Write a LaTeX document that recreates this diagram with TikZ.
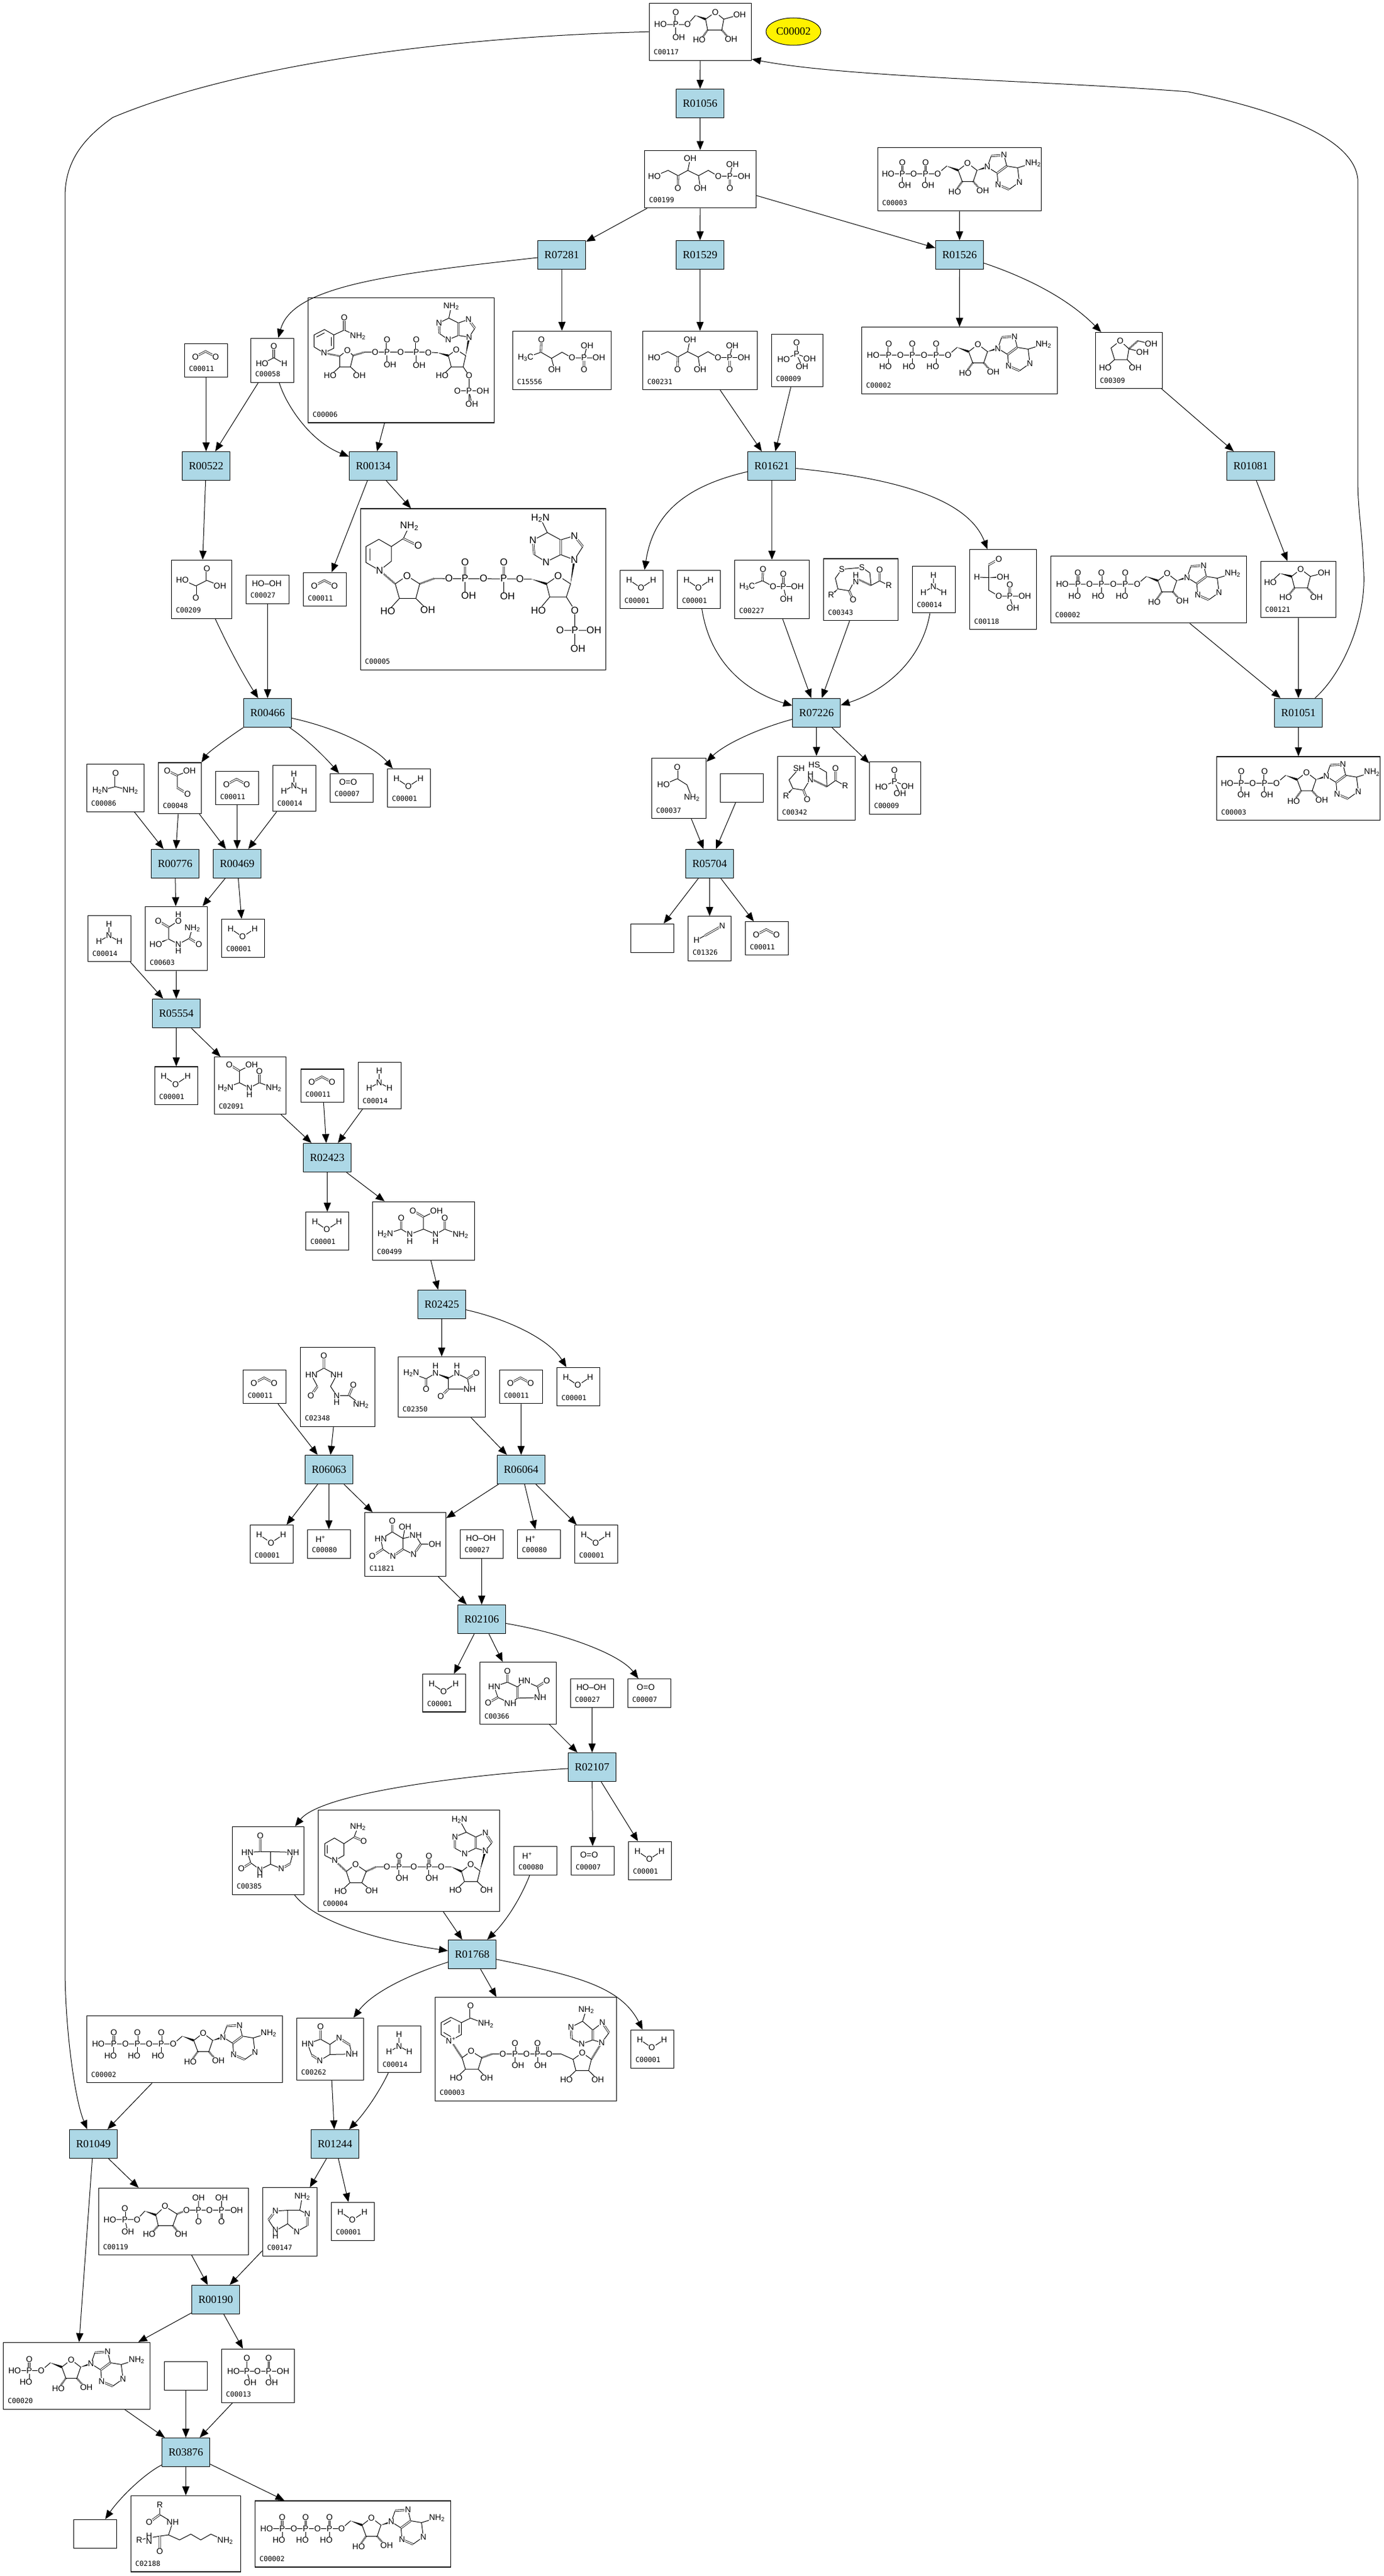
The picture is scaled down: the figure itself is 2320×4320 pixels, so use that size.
\documentclass[tikz,border=0pt]{standalone}
\usepackage{fontspec}
\setmainfont{Liberation Serif}
\setsansfont{Liberation Sans}
\setmonofont{DejaVu Sans Mono}
\usetikzlibrary{arrows.meta,calc,shapes.geometric}
\definecolor{rxnblue}{HTML}{ADD8E6}
\newcounter{atomno}
\newcommand{\NHH}{NH\textsubscript{2}}
\newcommand{\HHN}{H\textsubscript{2}N}
\newcommand{\atoms}[1]{\foreach \ax/\ay/\atxt in {#1}{\stepcounter{atomno}\node[atom] (atom\theatomno) at (\ax,\ay) {\atxt};}}
\newcommand{\wdg}[2]{\fill (#1) -- ($(#2)!1.9pt!90:(#1)$) -- ($(#2)!1.9pt!-90:(#1)$) -- cycle;}
\newcommand{\cpd}[6]{%
    \node[cpdbox, minimum width=(#3-#2)*1pt, minimum height=(#5-#4)*1pt] (#1) at ({(#2+#3)/2},{(#4+#5)/2}) {};
    \node[cpdid] (#1id) at ([shift={(8,-14.3)}]#1.south west) {#6};}
\newcommand{\Pgrp}[3]{%
    \draw[dbl] (#1,-8.8)--(#1,-28.2);
    \draw[bond] (#1,-8.8)--(#1,8);
    \atoms{#1/-8.8/P, #1/-28.2/O, #1+#2/10.6/#3}}
\newcommand{\Pnad}[2]{%
    \draw[dbl] (#1,#2)--(#1,#2-18.3);
    \draw[bond] (#1,#2)--(#1,#2+17);
    \atoms{#1/#2/P, #1/#2-18.3/O, #1+5/#2+19.2/OH}}
\newcommand{\adenosine}{%
    \draw[bond] (15.3,-14.8)--(31,-27)--(47,-14.8)--(40.6,4)--(22.2,4)--cycle;
    \wdg{-3.8,-22}{15.3,-14.8}
    \wdg{47,-14.8}{64.3,-20.3}
    \draw[hashbond] (22.2,4)--(12,18) (40.6,4)--(52,17);
    \draw[bond] (64.3,-20.3)--(70.8,-39) (92.2,-40.3)--(96.8,-22)--(115,-19)--(118,5) (100.7,17.3)--(118,5) (82.3,9.4)--(80.7,-10)--(64.3,-20.3) (115,-19)--(140.8,-27);
    \draw[dbl] (70.8,-39)--(92.2,-40.3) (96.8,-22)--(80.7,-10) (82.3,9.4)--(100.7,17.3);
    \atoms{31/-27/O, 9.6/21/HO, 56.6/19/OH, 64.3/-20.3/N, 92.2/-40.3/N, 82.3/9.4/N, 118/5/N, 140.8/-27/\NHH}}
\tikzset{
    bond/.style={line width=1pt},
    dbl/.style={line width=.8pt, double=white, double distance=1.7pt},
    hashbond/.style={line width=3pt, dash pattern=on .8pt off 1.1pt},
    atom/.style={font=\sffamily\fontsize{14}{15}\selectfont, fill=white, inner sep=.5pt},
    cpdbox/.style={draw, fill=white, line width=1.3pt, inner sep=0pt},
    cpdid/.style={anchor=west, inner sep=0pt, font=\ttfamily\fontsize{11.6}{12}\selectfont},
    rxn/.style={draw, fill=rxnblue, line width=1.3pt, minimum width=80pt, minimum height=48pt, inner sep=0pt, font=\fontsize{18.3}{20}\selectfont},
    goal/.style={draw, ellipse, fill=yellow, line width=1pt, minimum width=92pt, minimum height=46pt, inner sep=0pt, font=\fontsize{18.3}{20}\selectfont},
    rel/.style={-{Triangle[length=15pt,width=12pt]}, line width=1pt},
    molwater/.pic={\draw[bond] (-20.9,-15.8)--(-1,-2.4)--(19.4,-15.8); \atoms{-20.9/-15.8/H, -1/-2.4/O, 19.4/-15.8/H}},
    molco/.pic={\draw[dbl] (-18,-6)--(-1,-15)--(16,-6); \atoms{-18/-6/O, 16/-6/O}},
    molam/.pic={\draw[bond] (-.8,-24.5)--(-.8,-5)--(-17.6,4.5) (-.8,-5)--(16.6,4.5); \atoms{-.8/-24.5/H, -.8/-5/N, -17.6/4.5/H, 16.6/4.5/H}},
    moloxy/.pic={\atoms{-6/-9.6/O=O}},
    molperox/.pic={\atoms{-1.3/-9.6/HO--OH}},
    molproton/.pic={\atoms{-14/-8.5/H\textsuperscript{+}}},
    molpi/.pic={\draw[dbl] (-1.3,-29.5)--(-1.3,-10.7); \draw[bond] (-23,-1.8)--(-1.3,-10.7)--(20.7,-3) (-1.3,-10.7)--(8,9.8); \atoms{-1.3/-29.5/O, -1.3/-10.7/P, -23/-1.8/HO, 20.7/-3/OH, 8/9.8/OH}},
    molatp/.pic={\draw[bond] (-144,-8.8)--(-19.1,-8.8)--(-3.8,-22);
        \foreach \px in {-118.6,-79.2,-39.2}{\Pgrp{\px}{-5.5}{HO}}
        \adenosine
        \atoms{-144.7/-8.8/HO, -99.1/-8.8/O, -59.3/-8.8/O, -19.1/-8.8/O}},
    moladp/.pic={\begin{scope}[shift={(-17.6,0)}]
        \draw[bond] (-102,-8.8)--(-19.1,-8.8)--(-3.8,-22);
        \foreach \px in {-78.2,-39.2}{\Pgrp{\px}{4}{OH}}
        \adenosine
        \atoms{-102/-8.8/HO, -59.3/-8.8/O, -19.1/-8.8/O}
        \end{scope}},
    molamp/.pic={\begin{scope}[shift={(-40.3,0)}]
        \draw[bond] (-63.7,-8.8)--(-19.1,-8.8)--(-3.8,-22);
        \Pgrp{-39.2}{-5.5}{HO}
        \adenosine
        \atoms{-63.7/-8.8/HO, -19.1/-8.8/O}
        \end{scope}},
    molrfive/.pic={\draw[bond] (-66.8,-12.3)--(-21.4,-12.3)--(-8.2,-27.5) (-41.3,-12.3)--(-41.3,6) (8.7,-21.2)--(25,-32.8)--(39.3,-21.2)--(36,-3)--(12.2,-3)--cycle (39.3,-21.2)--(60,-27);
        \draw[dbl] (-41.3,-12.3)--(-41.3,-32.8);
        \wdg{-8.2,-27.5}{8.7,-21.2}
        \draw[hashbond] (12.2,-3)--(3,10) (36,-3)--(47,10);
        \atoms{-41.3/-32.8/O, -41.3/-12.3/P, -66.8/-12.3/HO, -21.4/-12.3/O, -36.2/9.2/OH, 25/-32.8/O, 65.8/-28.3/OH, -2/13.7/HO, 51.5/12.8/OH}},
    molketo/.pic={\draw[bond] (-77,-5)--(-54,-14.7)--(-37.2,-5.8)--(-20.9,-14.7)--(-3,-5.8)--(13.3,-14.7)--(30,-5)--(73.5,-5) (-20.9,-14.7)--(-17,-34.4) (-3,-5.8)--(0,15.2) (49.5,-5)--(54,-24.6);
        \draw[dbl] (-37.2,-5.8)--(-37.7,15.2) (49.5,-5)--(49.5,15.2);
        \atoms{-77/-5/HO, -37.7/15.2/O, -17/-34.4/OH, 0/15.2/OH, 30/-5/O, 49.5/-5/P, 54/-24.6/OH, 73.5/-5/OH, 49.5/15.2/O}},
    molmeth/.pic={\draw[bond] (-61,-4.5)--(-35.4,-13.8)--(-17.6,-3.6)--(0,-13.8)--(16.6,-4.5)--(61.8,-4.5) (-17.6,-3.6)--(-12.6,15.2) (36.9,-4.5)--(42,-25);
        \draw[dbl] (-35.4,-13.8)--(-34.6,-34.8) (36.9,-4.5)--(36.9,15.2);
        \atoms{-61/-4.5/H\textsubscript{3}C, -34.6/-34.8/O, -12.6/15.2/OH, 16.6/-4.5/O, 36.9/-4.5/P, 42/-25/OH, 61.8/-4.5/OH, 36.9/15.2/O}},
    molformate/.pic={\draw[dbl] (2.7,-23.7)--(2.7,-4.3); \draw[bond] (-17,5.7)--(2.7,-4.3)--(20.3,5.7); \atoms{2.7/-23.7/O, -17/5.7/HO, 20.3/5.7/H}},
    moloxal/.pic={\draw[bond] (-32.3,-16)--(-9.7,-5.7)--(8.7,-15)--(30.7,-6); \draw[dbl] (-9.7,-5.7)--(-9.7,14.3) (8.7,-15)--(8.7,-34.3); \atoms{-32.3/-16/HO, -9.7/14.3/O, 8.7/-34.3/O, 30.7/-6/OH}},
    molrulose/.pic={\draw[bond] (-14.7,-33)--(-30,-21)--(-24,-1.5)--(-2.9,-1.5)--(0,-19.7)--cycle (0,-19.7)--(22.8,-13.6) (-24,-1.5)--(-39.6,12.4) (-2.9,-1.5)--(10.5,12.4) (15.1,-33)--(37.3,-27.6); \draw[hashbond] (0,-19.7)--(15.1,-33); \atoms{-14.7/-33/O, 37.3/-27.6/OH, 22.8/-13.6/OH, -39.6/12.4/HO, 10.5/12.4/OH}},
    molribose/.pic={\draw[bond] (-47,-11.8)--(-31,-27) (-11.5,-22)--(3.8,-34)--(20,-22)--(15,-2.7)--(-6.5,-2.7)--cycle (20,-22)--(43,-28); \wdg{-31,-27}{-11.5,-22} \draw[hashbond] (-6.5,-2.7)--(-16,9) (15,-2.7)--(26,9); \atoms{-47/-11.8/HO, 3.8/-34/O, 43/-28/OH, -21.4/13/HO, 30.2/13/OH}},
    molacetylp/.pic={\draw[bond] (-41.6,-4.8)--(-16,-14.5)--(1.8,-4.8)--(42.6,-4.8) (19,-4.8)--(24,15.8); \draw[dbl] (-16,-14.5)--(-15,-34) (19,-4.8)--(19,-25.5); \atoms{-41.6/-4.8/H\textsubscript{3}C, -15/-34/O, 1.8/-4.8/O, 19/-4.8/P, 19/-25.5/O, 42.6/-4.8/OH, 24/15.8/OH}},
    moldisulf/.pic={\draw[bond] (-32,-34)--(1.8,-37)--(15,-28)--(17,-7)--(31.4,-14.5)--(46.7,-7) (-32,-34)--(-42.8,-19)--(-38.5,-1)--(-19.6,2)--(-8.4,-19) ; \wdg{-38.5,-1}{-50,9.4} \draw[hashbond] (-8.4,-19)--(17,-7); \draw[dbl] (-19.6,2)--(-13,17.3) (31.4,-14.5)--(31.4,-33); \atoms{-32/-34/S, 1.8/-37/S, -50/9.4/R, -13/17.3/O, -8.4/-24/H, -8.4/-13/N, 31.4/-33/O, 46.7/-7/R}},
    moldithiol/.pic={\draw[bond] (-29.3,-33)--(-46,-14)--(-39.5,.3)--(-21.7,3.3)--(-10,-16) (-3.8,-39)--(16.6,-27)--(17.6,-2.7)--(32,-13)--(48,-4); \wdg{-39.5,.3}{-51,12.4} \draw[hashbond] (-10,-16)--(17.6,-2.7); \draw[dbl] (-21.7,3.3)--(-15.6,19) (32,-13)--(32,-33); \atoms{-29.3/-33/SH, -51/12.4/R, -15.6/19/O, -10/-23/H, -10/-14/N, -3.8/-39/HS, 32/-33/O, 48/-4/R}},
    molgap/.pic={\draw[bond] (-24,-41.5)--(-24,1)--(-7,11)--(36.4,11) (11.4,11)--(16.5,30.6) (-43.6,-21)--(-24,-20); \draw[dbl] (-24,-41.5)--(-7,-51) (11.4,11)--(11.4,-8); \wdg{-24,-20}{0,-21} \atoms{-7/-51/O, -43.6/-21/H, 0/-21/OH, -7/11/O, 11.4/11/P, 11.4/-8/O, 36.4/11/OH, 16.5/30.6/OH}},
    molglycine/.pic={\draw[bond] (-25.8,-5.8)--(-2.8,-16)--(13.5,-5.8)--(21.7,15.5); \draw[dbl] (-2.8,-16)--(-2.8,-35.4); \atoms{-25.8/-5.8/HO, -2.8/-35.4/O, 21.7/15.5/\NHH}},
    molhcn/.pic={\draw[bond] (-22,2.7)--(-8,-5); \draw[dbl] (-8,-5)--(21.2,-21.5); \atoms{-22/2.7/H, 21.2/-21.5/N}},
    molurea/.pic={\draw[bond] (-25.6,4.3)--(.2,-2)--(25,4.3); \draw[dbl] (.2,-2)--(.2,-25); \atoms{.2/-25/O, -25.6/4.3/\HHN, 25/4.3/\NHH}},
    molglyox/.pic={\draw[bond] (16.3,-29.6)--(-4.3,-21.5)--(-4.3,-1); \draw[dbl] (-21,-29.6)--(-4.3,-21.5) (-4.3,-1)--(12.9,9.5); \atoms{-21/-29.6/O, 16.3/-29.6/OH, 12.9/9.5/O}},
    molureidoa/.pic={\draw[bond] (3.6,-29.6)--(-12.6,-19)--(-12.6,1)--(3.6,9.5)--(22,-.3)--(27,-17.5); \wdg{-12.6,1}{-34.2,9.5} \draw[dbl] (-30.2,-29.6)--(-12.6,-19) (22,-.3)--(37.8,9.5); \atoms{-30.2/-29.6/O, 3.6/-40.5/H, 3.6/-29.6/O, 27/-17.5/\NHH, -34.2/9.5/HO, 3.6/9.5/N, 3.6/21/H, 37.8/9.5/O}},
    molureidob/.pic={\draw[bond] (2.6,-35.3)--(-18,-25)--(-18,-5)--(-41,3.7) (-18,-5)--(-1.2,3.7)--(15.6,-5)--(39.5,3.7); \draw[dbl] (-35,-35.3)--(-18,-25) (15.6,-5)--(15.6,-24); \atoms{-35/-35.3/O, 2.6/-35.3/OH, -41/3.7/\HHN, -1.2/3.7/N, -1.2/15.2/H, 15.6/-24/O, 39.5/3.7/\NHH}},
    molallant/.pic={\draw[bond] (21.7,-34)--(0,-23.5)--(0,-3)--(-23,5.6)--(-37.5,-3)--(-64,5.6) (0,-3)--(20.2,5.6)--(35.5,-3)--(62,6.6); \draw[dbl] (-18,-34)--(0,-23.5) (-37.5,-3)--(-37.5,-21.4) (35.5,-3)--(35.5,-21.4); \atoms{-18/-34/O, 21.7/-34/OH, -23/5.6/N, -23/17.3/H, -37.5/-21.4/O, -64/5.6/\HHN, 20.2/5.6/N, 20.2/17.3/H, 35.5/-21.4/O, 62/6.6/\NHH}},
    molohcu/.pic={\draw[bond] (-44,-20)--(-23.2,-31.6)--(-1.8,-20)--(-12,-1)--(-1.8,14.3)--(18.6,14.3)--(39,29.6) (-44,-20)--(-34,-1); \draw[dbl] (-23.2,-31.6)--(-23.2,-52) (-34,-1)--(-45,14.3) (18.6,14.3)--(26.3,-3.6); \atoms{-23.2/-52/O, -44/-20/HN, -1.8/-20/NH, -45/14.3/O, -1.8/14.3/N, -1.8/26/H, 26.3/-3.6/O, 39/29.6/\NHH}},
    molallantoin/.pic={\draw[bond] (-51,-23)--(-26,-13.8)--(-10.2,-23) (25.5,-23)--(43.4,-13.8)--(47,3.6)--(11.2,3.6)--(11.2,-14.8)--cycle; \wdg{-10.2,-23}{11.2,-14.8} \draw[dbl] (-26,-13.8)--(-26,4) (43.4,-13.8)--(58.2,-23) (11.2,3.6)--(-1.5,15.8); \atoms{-51/-23/\HHN, -26/4/O, -10.2/-23/N, -10.2/-35.7/H, 25.5/-23/N, 25.5/-35.7/H, 58.2/-23/O, 47/3.6/NH, -1.5/15.8/O}},
    molhiu/.pic={\draw[bond] (-22,-21)--(-41.3,-9)--(-37.8,8)--(-21,19.6) (-22,-21)--(-4,-10)--(-4,8) (-4,-10)--(-.5,-29.3) (-4,-10)--(17.3,-15)--(26,-.8)--(49.5,-.3) (13.8,16.8)--(-4,8); \draw[dbl] (-22,-21)--(-22,-39) (-37.8,8)--(-55.6,19.6) (-21,19.6)--(-4,8) (26,-.8)--(13.8,16.8); \atoms{-22/-39/O, -41.3/-9/HN, -55.6/19.6/O, -21/19.6/N, -.5/-29.3/OH, 17.3/-15/NH, 49.5/-.3/OH, 13.8/16.8/N}},
    moluric/.pic={\draw[bond] (-18,-18.5)--(-40,-11)--(-34,7)--(-13,17.2)--(-1,8.3) (-18,-18.5)--(-1,-10.5)--(10.5,-20.8)--(32.4,-11)--(37,7.4)--(-1,8.3); \draw[dbl] (-18,-18.5)--(-18,-37.3) (-34,7)--(-50.2,16.3) (-1,-10.5)--(-1,8.3) (32.4,-11)--(48,-20.8); \atoms{-18/-37.3/O, -40/-11/HN, -50.2/16.3/O, -13/17.2/NH, 10.5/-20.8/HN, 48/-20.8/O, 37/7.4/NH}},
    molxanth/.pic={\draw[bond] (-13.3,-15)--(-34.7,-14)--(-29,3.8)--(-13.8,15)--(4,6)--(22,13.6) (-13.3,-15)--(4,-15)--(41.8,-14)--(37,5) (4,-15)--(4,6); \draw[dbl] (-13.3,-15)--(-13.3,-41.7) (-29,3.8)--(-45,13.6) (22,13.6)--(37,5); \atoms{-13.3/-41.7/O, -34.7/-14/HN, 41.8/-14/NH, -45/13.6/O, -13.8/15/N, -13.8/24.8/H, 22/13.6/N}},
    molhypox/.pic={\draw[bond] (-16.3,-16.7)--(-37.8,-9)--(-31,10) (-17.3,19)--(-.5,9)--(36.2,8.3)--(32.6,-7.3) (-16.3,-16.7)--(-.5,-7.8)--(14.8,-18.5) (-.5,-7.8)--(-.5,9); \draw[dbl] (-16.3,-16.7)--(-16.3,-37.3) (-31,10)--(-17.3,19) (14.8,-18.5)--(32.6,-7.3); \atoms{-16.3/-37.3/O, -37.8/-9/HN, -17.3/19/N, 14.8/-18.5/N, 36.2/8.3/NH}},
    moladenine/.pic={\draw[bond] (20.7,-42.3)--(16.6,-19.5)--(29.3,-13) (29.3,6.5)--(11.5,16.3)--(-3.8,3.3)--(-24.2,15)--(-36,-3.3) (16.6,-19.5)--(-3.8,-19.5)--(-24.2,-18.2) (-3.8,-19.5)--(-3.8,3.3); \draw[dbl] (29.3,-13)--(29.3,6.5) (-24.2,-18.2)--(-36,-3.3); \atoms{20.7/-42.3/\NHH, 29.3/-13/N, 11.5/16.3/N, -24.2/-18.2/N, -24.2/14/N, -24.2/24/H}},
    molprpp/.pic={\draw[bond] (-106.6,-3.3)--(-61,-3.3)--(-48,-17.5) (-81.6,-3.3)--(-76.5,17) (-29.6,-11)--(-14.3,-25.4)--(6,-12.5)--(-1,7)--(-25.5,7)--cycle (21.7,-19)--(106,-19) (42,-19)--(42,-40.3) (80.6,-19)--(80.6,-40.3);
        \draw[dbl] (-81.6,-3.3)--(-81.6,-22) (42,-19)--(42,.6) (80.6,-19)--(80.6,.6);
        \wdg{-48,-17.5}{-29.6,-11} \draw[hashbond] (6,-12.5)--(21.7,-19) (-25.5,7)--(-35,18) (-1,7)--(8,18);
        \atoms{-106.6/-3.3/HO, -81.6/-3.3/P, -81.6/-22/O, -76.5/17/OH, -61/-3.3/O, -14.3/-25.4/O, -40.8/21.5/HO, 12.8/21.5/OH, 21.7/-19/O, 42/-19/P, 42/-40.3/OH, 42/.6/O, 60.2/-19/O, 80.6/-19/P, 80.6/-40.3/OH, 80.6/.6/O, 106/-19/OH}},
    molppi/.pic={\draw[bond] (-41,-7.8)--(42,-7.8) (-18.6,-7.8)--(-18.6,-30) (-18.6,-7.8)--(-13,11.7) (18,-7.8)--(23,11.7); \draw[dbl] (18,-7.8)--(18,-30); \atoms{-41/-7.8/HO, -18.6/-7.8/P, -18.6/-30/O, -13/11.7/OH, -.8/-7.8/O, 18/-7.8/P, 18/-30/O, 42/-7.8/OH, 23/11.7/OH}},
    mollysine/.pic={\draw[bond] (-22,-19)--(-29,2)--(-43.6,4)--(-61.5,7) (-29,2)--(-10.5,10.4)--(8.4,.7)--(25,10.4)--(42,.7)--(66,11.7) (-43.6,-48)--(-43.6,-32)--(-22,-19) (-78,10.4)--(-61.5,7); \draw[dbl] (-43.6,-32)--(-61.5,-19) (-43.6,4)--(-43.6,30); \atoms{-43.6/-48/R, -61.5/-19/O, -22/-19/NH, -78/10.4/R, -61.5/4/H, -61.5/13/N, -43.6/30/O, 66/11.7/\NHH}},
    molnad/.pic={\draw[bond] (-142.3,-44.4)--(-126,-53.3)--(-108.2,-44.4)--(-108.2,-24.3)--(-126,-14.5)--(-142.3,-24.3)--cycle (-108.2,-44.4)--(-92.9,-52)--(-67.3,-42.2) (-138,-28)--(-126,-21) (-138,-41)--(-126,-48) (-112,-41)--(-112,-27);
        \draw[dbl] (-92.9,-52)--(-92.9,-72.5);
        \draw[hashbond] (-126,-14.5)--(-107.1,14.5) (-74,14.5)--(-57,8.3) (109.7,17.2)--(127,-11)  ;
        \draw[bond] (-107.1,14.5)--(-91.8,3.4)--(-74,14.5)--(-80,33.7)--(-101.5,33.7)--cycle (-101.5,33.7)--(-117,48.4) (-80,33.7)--(-65.8,48.4) (-57,8.3)--(59.2,8.3)--(79,17.2)--(94.4,6)--(109.7,17.2)--(105,36)--(83.7,36)--(79,17.2) (83.7,36)--(67.9,51) (105,36)--(120.4,51) (127,-11)--(139.3,-27.5) (128,-44.4)--(112,-32)--(94.9,-46.7)--(75.5,-36.8) (76.5,-17.6)--(93.4,-8.7)--(112,-15.4)--(127,-11) (94.9,-46.7)--(101,-65.8);
        \draw[dbl] (139.3,-27.5)--(128,-44.4) (112,-32)--(112,-15.4) (75.5,-36.8)--(76.5,-17.6);
        \Pnad{-18.4}{8.3} \Pnad{19.4}{8.3}
        \atoms{-92.9/-72.5/O, -67.3/-42.2/\NHH, -126/-14.5/N\textsuperscript{+}, -91.8/3.4/O, -117/48.4/HO, -65.8/48.4/OH, -38.8/8.3/O, 1/8.3/O, 38.8/8.3/O, 94.4/6/O, 67.9/51/HO, 120.4/51/OH, 127/-11/N, 128/-44.4/N, 93.4/-8.7/N, 75.5/-36.8/N, 101/-65.8/\NHH}},
    molnadh/.pic={\draw[bond] (-125,-38)--(-109,-28.6)--(-109,-9)--(-124.3,-.4)--(-141.3,-9)--(-141.3,-28.6)--cycle (-109,-28.6)--(-92,-39.7)--(-85.5,-56.7) (-137,-12)--(-137,-26);
        \draw[dbl] (-92,-39.7)--(-76,-33);
        \draw[hashbond] (-124.3,-.4)--(-105,18) (-71.7,18)--(-55,10.3);
        \wdg{71,10.3}{88,18} \wdg{119,17}{128,-16.5}
        \draw[bond] (-105,18)--(-89.5,6)--(-71.7,18)--(-79,37)--(-99,37)--cycle (-99,37)--(-114.5,51.3) (-79,37)--(-62.5,50.4) (-55,10.3)--(71,10.3) (88,18)--(103.4,6)--(119,17)--(114.5,35)--(93,35)--(88,18) (93,35)--(78,49.6) (114.5,35)--(130,49.6) (128,-16.5)--(139,-30) (128,-47)--(112,-39.7)--(96,-47.8)--(77,-40) (77,-21)--(93.4,-12)--(112,-21)--(128,-16.5) (96,-47.8)--(84.6,-68.8);
        \draw[dbl] (139,-30)--(128,-47) (112,-39.7)--(112,-21) (77,-40)--(77,-21);
        \Pnad{-16.6}{10.3} \Pnad{33.4}{10.3}
        \atoms{-85.5/-56.7/\NHH, -76/-33/O, -124.3/-.4/N, -89.5/6/O, -114.5/51.3/HO, -62.5/50.4/OH, -37/10.3/O, 8/10.3/O, 54/10.3/O, 103.4/6/O, 78/49.6/HO, 130/49.6/OH, 128/-16.5/N, 128/-47/N, 93.4/-12/N, 77/-40/N, 84.6/-68.8/\HHN}},
    molnadp/.pic={\draw[bond] (-146,-42.6)--(-128.5,-51.6)--(-112.7,-42.6)--(-112.7,-20.3)--(-129.3,-12.3)--(-146,-22.5)--cycle (-112.7,-42.6)--(-95.4,-50.7)--(-72.6,-40.4) (-142,-39)--(-128.5,-46) (-117,-39)--(-117,-24);
        \draw[dbl] (-95.4,-50.7)--(-95.4,-71.7);
        \draw[hashbond] (-129.3,-12.3)--(-103,-7) (-80.4,-8)--(-61.8,-13.6);
        \wdg{61.4,-12.7}{79.2,-7.8} \wdg{108.2,-7.8}{114,-39}
        \draw[bond] (-103,-7)--(-90,-17)--(-80.4,-8)--(-85,11)--(-103,11)--cycle (-103,11)--(-119,25.7) (-85,11)--(-70,25) (-61.8,-13.6)--(45.6,-13.6)--(61.4,-12.7) (79.2,-7.8)--(92.5,-18)--(108.2,-7.8)--(104,11)--(84,11)--(79.2,-7.8) (84,11)--(68.8,25.7) (104,11)--(114,25.7)--(114,73) (94.5,51)--(137,51) (114,51)--(118.5,73.4) (114,-39)--(123.7,-53.8) (113,-68.5)--(96,-62.7)--(80,-70.7)--(63.4,-62.7) (64.3,-44.9)--(79,-34.6)--(96,-41.7)--(114,-39) (80,-70.7)--(84,-90.4);
        \draw[dbl] (123.7,-53.8)--(113,-68.5) (96,-62.7)--(96,-41.7) (63.4,-62.7)--(64.3,-44.9);
        \draw[dbl] (-23.6,-13.6)--(-23.6,-34.6) (25.3,-13.6)--(25.3,-34.6);
        \draw[bond] (-23.6,-13.6)--(-23.6,5) (25.3,-13.6)--(25.3,5);
        \atoms{-95.4/-71.7/O, -72.6/-40.4/\NHH, -129.3/-12.3/N, -90/-17/O, -119/25.7/HO, -70/25/OH, -43.5/-13.6/O, -23.6/-13.6/P, -23.6/-34.6/O, -18.6/7.4/OH, -.8/-13.6/O, 25.3/-13.6/P, 25.3/-34.6/O, 30.3/8.3/OH, 45.6/-12.7/O, 92.5/-18/O, 68.8/25.7/HO, 114/25.7/O, 114/51/P, 94.5/51/O, 137/51/OH, 118.5/73.4/OH, 114/-39/N, 113/-68.5/N, 79/-34.6/N, 63.4/-62.7/N, 84/-90.4/\NHH}},
    molnadph/.pic={\begin{scope}[atom/.append style={font=\sffamily\fontsize{16.5}{17}\selectfont}]
        \draw[bond] (-175,-83.7)--(-154,-71.6)--(-154,-47)--(-173.7,-31.5)--(-196.5,-44.8)--(-196.5,-71.6)--cycle (-154,-71.6)--(-134,-85)--(-124,-106) (-190,-48)--(-190,-68);
        \draw[dbl] (-134,-85)--(-109,-73);
        \draw[hashbond] (-173.7,-31.5)--(-147.5,-9) (-106.5,-9)--(-82.5,-18);
        \wdg{81,-17}{106,-9} \wdg{146.4,-9}{152.7,-49.3}
        \draw[bond] (-147.5,-9)--(-127.7,-22.5)--(-106.5,-9)--(-113,15.4)--(-140.5,15.4)--cycle (-140.5,15.4)--(-160,36.8) (-113,15.4)--(-93,35) (-82.5,-18)--(81,-17) (106,-9)--(125.6,-22.5)--(146.4,-9)--(139.3,13)--(111.5,13)--(106,-9) (111.5,13)--(92.5,35.5) (139.3,13)--(153.6,35.5)--(153.6,99) (128.8,69)--(185.5,69) (152.7,-49.3)--(167,-71.6) (152.7,-89.5)--(129.9,-82.8)--(107.4,-95)--(83.3,-82) (85.4,-58)--(105.3,-45.8)--(129.9,-58)--(152.7,-49.3) (107.4,-95)--(95.8,-119.4) (-30.6,-18)--(-30.6,9) (34.4,-18)--(34.4,9);
        \draw[dbl] (167,-71.6)--(152.7,-89.5) (129.9,-82.8)--(129.9,-58) (83.3,-82)--(85.4,-58) (-30.6,-18)--(-30.6,-45) (34.4,-18)--(34.4,-45);
        \atoms{-124/-106/\NHH, -109/-73/O, -173.7/-31.5/N, -127.7/-22.5/O, -160/36.8/HO, -93/35/OH, -57.6/-18/O, -30.6/-18/P, -30.6/-45/O, -24.5/11/OH, .4/-18/O, 34.4/-18/P, 34.4/-45/O, 40.6/12/OH, 61.4/-17/O, 125.6/-22.5/O, 92.5/35.5/HO, 153.6/35.5/O, 153.6/69/P, 128.8/69/O, 185.5/69/OH, 158.8/99.3/OH, 152.7/-49.3/N, 152.7/-89.5/N, 105.3/-45.8/N, 83.3/-82/N, 95.8/-119.4/\HHN}
        \end{scope}},
}
\begin{document}
\begin{tikzpicture}[x=1pt,y=-1pt]
    \useasboundingbox (0,0) rectangle (2320,4320);
    % reactions
    \foreach \rname/\rx/\ry in {R01056/1173.5/173.5, R07281/941.7/427.5, R01529/1173.5/427.5, R01526/1608.5/427.5,
        R00522/345.5/781.5, R00134/625.5/781.5, R01621/1293.7/781.5, R01081/2096.5/781.5,
        R00466/448.5/1195.5, R07226/1368.7/1195.3, R01051/2176.5/1195.3, R00776/293.5/1448.5, R00469/397.5/1448.5, R05704/1189.5/1448.5,
        R05554/295.5/1699.5, R02423/548.5/1941.5, R02425/740.5/2187.5, R06063/551.5/2464.5, R06064/873.5/2464.5,
        R02106/807.5/2715.5, R02107/992.5/2963.5, R01768/791.5/3277.5, R01049/156.5/3595.5, R01244/561.5/3595.5,
        R00190/361.5/3856.5, R03876/311.5/4112.5}
        {\node[rxn] (\rname) at (\rx,\ry) {\rname};}
    \node[goal] (C00002top) at (1330,53) {C00002};
    % compounds
    \cpd{C00117}{1088.3}{1259.7}{5.4}{101.3}{C00117}
    \cpd{C00199}{1080.6}{1267.3}{252.2}{348.7}{C00199}
    \cpd{C00003a}{1471.4}{1745.4}{247.3}{353.6}{C00003}
    \cpd{C00058}{420.3}{492.3}{567.3}{641.3}{C00058}
    \cpd{C00011a}{309.3}{381.7}{576.3}{632.3}{C00011}
    \cpd{C00006}{516.5}{828.3}{499.6}{708.9}{C00006}
    \cpd{C15556}{859.4}{1024.8}{555.4}{653.6}{C15556}
    \cpd{C00231}{1077.6}{1269.4}{555.4}{653.6}{C00231}
    \cpd{C00009a}{1293.4}{1379.6}{560.3}{648.7}{C00009}
    \cpd{C00002a}{1444.4}{1772.4}{548.7}{660.3}{C00002}
    \cpd{C00309}{1836.3}{1948.5}{557.6}{651.5}{C00309}
    \cpd{C00209}{287.3}{388.7}{939.3}{1037.3}{C00209}
    \cpd{C00027a}{412.3}{484.7}{964.3}{1012.3}{C00027}
    \cpd{C00011b}{508.6}{580.8}{960.3}{1016.5}{C00011}
    \cpd{C00005}{604.4}{1015.7}{853.1}{1123.2}{C00005}
    \cpd{C00001a}{1039.3}{1111.7}{956.3}{1020.5}{C00001}
    \cpd{C00001b}{1135.7}{1207.7}{956.3}{1020.5}{C00001}
    \cpd{C00227}{1231.6}{1356.6}{939.3}{1037.5}{C00227}
    \cpd{C00343}{1380.6}{1505.6}{936.9}{1040.5}{C00343}
    \cpd{C00014a}{1529.6}{1601.5}{949.6}{1027.8}{C00014}
    \cpd{C00118}{1625.5}{1737.2}{921.8}{1055.7}{C00118}
    \cpd{C00002b}{1761.3}{2089.7}{932.6}{1044.7}{C00002}
    \cpd{C00121}{2113.4}{2239.7}{941.7}{1035.6}{C00121}
    \cpd{C00003b}{2039.6}{2313.6}{1268.9}{1375.5}{C00003}
    \cpd{C00037}{1092.3}{1183.7}{1271.3}{1372.5}{C00037}
    \cpd{C00342}{1303.6}{1433.7}{1268.3}{1375.5}{C00342}
    \cpd{C00009b}{1457.7}{1543.4}{1277.4}{1365.3}{C00009}
    \cpd{C01326}{1153.6}{1225.5}{1536.7}{1611.2}{C01326}
    \cpd{C00011c}{1249.5}{1321.4}{1545.8}{1601.6}{C00011}
    \cpd{C00086}{145.4}{241.6}{1281.4}{1361.2}{C00086}
    \cpd{C00048}{265.5}{337.2}{1279.1}{1364.7}{C00048}
    \cpd{C00011d}{361.6}{433.4}{1293.5}{1349.7}{C00011}
    \cpd{C00014b}{457.3}{529.5}{1283.7}{1360.7}{C00014}
    \cpd{C00007a}{553.4}{625.7}{1297.5}{1345.2}{C00007}
    \cpd{C00001c}{649.6}{721.3}{1289.5}{1353.2}{C00001}
    \cpd{C00603}{243.5}{347.3}{1520.2}{1627.6}{C00603}
    \cpd{C00001d}{371.7}{443.4}{1541.5}{1605.2}{C00001}
    \cpd{C00014c}{147.4}{219.6}{1535.7}{1612.6}{C00014}
    \cpd{C00001e}{259.3}{331.5}{1788.9}{1852.6}{C00001}
    \cpd{C02091}{359.2}{479.3}{1772.8}{1868.6}{C02091}
    \cpd{C00011e}{504.6}{576.4}{1792.9}{1848.6}{C00011}
    \cpd{C00014d}{600.3}{672.5}{1781.4}{1859.5}{C00014}
    \cpd{C00001f}{512.8}{584.7}{2032.7}{2096.4}{C00001}
    \cpd{C00499}{624.5}{795.4}{2015.3}{2113.3}{C00499}
    \cpd{C00011f}{407.7}{479.6}{2297.4}{2353.6}{C00011}
    \cpd{C02348}{503.6}{628.6}{2259.7}{2392.3}{C02348}
    \cpd{C02350}{667.3}{813.3}{2275.5}{2376.5}{C02350}
    \cpd{C00011g}{837.2}{909.7}{2297.4}{2353.6}{C00011}
    \cpd{C00001g}{933.7}{1005.6}{2293.4}{2357.7}{C00001}
    \cpd{C00001h}{419.4}{491.3}{2557.7}{2621.4}{C00001}
    \cpd{C00080a}{515.3}{587.2}{2565.3}{2613.3}{C00080}
    \cpd{C11821}{611.7}{747.4}{2536.7}{2643.4}{C11821}
    \cpd{C00027b}{771.4}{843.4}{2565.3}{2613.3}{C00027}
    \cpd{C00080b}{867.3}{939.3}{2565.3}{2613.3}{C00080}
    \cpd{C00001i}{963.3}{1035.7}{2557.7}{2621.4}{C00001}
    \cpd{C00001j}{708.5}{780.4}{2807.6}{2871}{C00001}
    \cpd{C00366}{804.5}{932.6}{2787.5}{2891.5}{C00366}
    \cpd{C00027c}{956.3}{1028.6}{2815.6}{2863.4}{C00027}
    \cpd{C00007b}{1052.2}{1124.6}{2815.6}{2863.4}{C00007}
    \cpd{C00385}{389.3}{509.7}{3063.4}{3177.2}{C00385}
    \cpd{C00004}{533.7}{837.4}{3035.5}{3205.4}{C00004}
    \cpd{C00080c}{861.6}{933.5}{3096.4}{3144.6}{C00080}
    \cpd{C00007c}{957.6}{1029.5}{3096.4}{3144.6}{C00007}
    \cpd{C00001k}{1053.6}{1125.4}{3088.4}{3152.2}{C00001}
    \cpd{C00262}{497.4}{609.7}{3384.4}{3488.4}{C00262}
    \cpd{C00014e}{633.7}{705.6}{3397.3}{3475.4}{C00014}
    \cpd{C00003c}{729.6}{1033.7}{3349.6}{3523.2}{C00003}
    \cpd{C00001l}{1057.7}{1129.6}{3404.5}{3468.3}{C00001}
    \cpd{C00002c}{145.4}{473.5}{3380.7}{3492.5}{C00002}
    \cpd{C00119}{165.3}{416.3}{3669.5}{3781.4}{C00119}
    \cpd{C00147}{440.3}{531.6}{3668.8}{3783.3}{C00147}
    \cpd{C00001m}{555.6}{627.6}{3693.5}{3757.3}{C00001}
    \cpd{C00020}{5.6}{251.5}{3928.4}{4040.3}{C00020}
    \cpd{C00013}{371.4}{493.4}{3939.4}{4029.2}{C00013}
    \cpd{C02188}{219.4}{403.6}{4185.3}{4312.8}{C02188}
    \cpd{C00002d}{427.6}{755.6}{4193.8}{4305}{C00002}
    \node[cpdbox, minimum width=72pt, minimum height=48pt] (blanka) at (1243.6,1321.4) {};
    \node[cpdbox, minimum width=72pt, minimum height=48pt] (blankb) at (1093.6,1573.4) {};
    \node[cpdbox, minimum width=72pt, minimum height=48pt] (blankc) at (311.5,3984.6) {};
    \node[cpdbox, minimum width=72pt, minimum height=48pt] (blankd) at (159.5,4249.3) {};
    % structures
    \foreach \cname in {C00001a,C00001b,C00001c,C00001d,C00001e,C00001f,C00001g,C00001h,C00001i,C00001j,C00001k,C00001l,C00001m}
        {\pic at (\cname) {molwater};}
    \foreach \cname in {C00011a,C00011b,C00011c,C00011d,C00011e,C00011f,C00011g}
        {\pic at (\cname) {molco};}
    \foreach \cname in {C00014a,C00014b,C00014c,C00014d,C00014e}
        {\pic at (\cname) {molam};}
    \foreach \cname in {C00007a,C00007b,C00007c}
        {\pic at (\cname) {moloxy};}
    \foreach \cname in {C00027a,C00027b,C00027c}
        {\pic at (\cname) {molperox};}
    \foreach \cname in {C00080a,C00080b,C00080c}
        {\pic at (\cname) {molproton};}
    \foreach \cname in {C00009a,C00009b}
        {\pic at (\cname) {molpi};}
    \foreach \cname in {C00002a,C00002b,C00002c,C00002d}
        {\pic at (\cname) {molatp};}
    \foreach \cname in {C00003a,C00003b}
        {\pic at (\cname) {moladp};}
    \foreach \cname in {C00199,C00231}
        {\pic at (\cname) {molketo};}
    \pic at (C00020) {molamp};
    \pic at (C00117) {molrfive};
    \pic at (C15556) {molmeth};
    \pic at (C00058) {molformate};
    \pic at (C00209) {moloxal};
    \pic at (C00309) {molrulose};
    \pic at (C00121) {molribose};
    \pic at (C00227) {molacetylp};
    \pic at (C00343) {moldisulf};
    \pic at (C00342) {moldithiol};
    \pic at (C00118) {molgap};
    \pic at (C00037) {molglycine};
    \pic at (C01326) {molhcn};
    \pic at (C00086) {molurea};
    \pic at (C00048) {molglyox};
    \pic at (C00603) {molureidoa};
    \pic at (C02091) {molureidob};
    \pic at (C00499) {molallant};
    \pic at (C02348) {molohcu};
    \pic at (C02350) {molallantoin};
    \pic at (C11821) {molhiu};
    \pic at (C00366) {moluric};
    \pic at (C00385) {molxanth};
    \pic at (C00262) {molhypox};
    \pic at (C00147) {moladenine};
    \pic at (C00119) {molprpp};
    \pic at (C00013) {molppi};
    \pic at (C02188) {mollysine};
    \pic at (C00003c) {molnad};
    \pic at (C00004) {molnadh};
    \pic at (C00006) {molnadp};
    \pic at (C00005) {molnadph};
    % straight edges
    \foreach \a/\b in {C00117/R01056, R01056/C00199, C00199/R07281, C00199/R01529, C00199/R01526, C00003a/R01526,
        R07281/C15556, R01529/C00231, R01526/C00002a, C00309/R01081, R01081/C00121, C00121/R01051, C00002b/R01051, R01051/C00003b,
        C00011a/R00522, C00058/R00522, R00522/C00209, C00006/R00134, R00134/C00005, R00134/C00011b,
        C00231/R01621, C00009a/R01621, R01621/C00227, C00227/R07226, C00343/R07226, R07226/C00342, R07226/C00009b,
        C00037/R05704, blanka/R05704, R05704/blankb, R05704/C01326, R05704/C00011c,
        C00027a/R00466, C00086/R00776, C00048/R00776, C00048/R00469, C00011d/R00469, C00014b/R00469,
        R00776/C00603, R00469/C00603, R00469/C00001d, C00603/R05554, C00014c/R05554, R05554/C00001e, R05554/C02091,
        C02091/R02423, C00011e/R02423, C00014d/R02423, R02423/C00001f, R02423/C00499, C00499/R02425, R02425/C02350,
        C00011f/R06063, C02348/R06063, C02350/R06064, C00011g/R06064,
        R06063/C00001h, R06063/C00080a, R06063/C11821, R06064/C11821, R06064/C00080b, R06064/C00001i,
        C11821/R02106, C00027b/R02106, R02106/C00001j, R02106/C00366, C00366/R02107, C00027c/R02107,
        R02107/C00007c, R02107/C00001k, C00004/R01768, R01768/C00003c, C00262/R01244,
        C00002c/R01049, R01049/C00119, R01049/C00020, R01244/C00147, R01244/C00001m, C00119/R00190, C00147/R00190,
        R00190/C00020, R00190/C00013, C00020/R03876, blankc/R03876, C00013/R03876, R03876/C02188, R03876/C00002d}
        {\draw[rel] (\a) -- (\b);}
    % curved edges
    \draw[rel] (R07281) .. controls (650,460) and (490,480) .. (C00058);
    \draw[rel] (C00058) .. controls (480,680) and (520,740) .. (R00134);
    \draw[rel] (R01526) .. controls (1720,465) and (1790,500) .. (C00309);
    \draw[rel] (C00209) .. controls (385,1090) and (410,1135) .. (R00466);
    \draw[rel] (R01621) .. controls (1150,815) and (1095,860) .. (C00001a);
    \draw[rel] (R01621) .. controls (1480,800) and (1620,830) .. (C00118);
    \draw[rel] (C00001b) .. controls (1190,1110) and (1250,1160) .. (R07226);
    \draw[rel] (C00014a) .. controls (1545,1110) and (1480,1160) .. (R07226);
    \draw[rel] (R07226) .. controls (1270,1222) and (1215,1248) .. (C00037);
    \draw[rel] (R00466) .. controls (400,1225) and (350,1260) .. (C00048.north east);
    \draw[rel] (R00466) .. controls (515,1240) and (545,1270) .. (C00007a);
    \draw[rel] (R00466) .. controls (570,1222) and (630,1255) .. (C00001c);
    \draw[rel] (R02425) .. controls (850,2212) and (920,2245) .. (C00001g);
    \draw[rel] (R02106) .. controls (950,2740) and (1040,2775) .. (C00007b);
    \draw[rel] (R02107) .. controls (800,2975) and (540,3005) .. (C00385);
    \draw[rel] (C00385) .. controls (530,3225) and (640,3255) .. (R01768);
    \draw[rel] (C00080c) .. controls (870,3190) and (845,3225) .. (R01768);
    \draw[rel] (R01768) .. controls (690,3310) and (625,3340) .. (C00262);
    \draw[rel] (R01768) .. controls (960,3312) and (1040,3330) .. (C00001l);
    \draw[rel] (C00014e) .. controls (635,3510) and (610,3545) .. (R01244);
    \draw[rel] (R03876) .. controls (240,4150) and (200,4190) .. (blankd);
    \draw[rel] (C00117.west) .. controls (800,60) and (420,100) .. (189,197) .. controls (140,232) and (109,270) .. (109,330) -- (109,3300) .. controls (109,3400) and (125,3520) .. (R01049);
    \draw[rel] (R01051) .. controls (2250,1130) and (2290,1040) .. (2286,960) .. controls (2283,880) and (2276,860) .. (2276,800) -- (2276,300) .. controls (2270,240) and (2170,190) .. (1992,154) .. controls (1750,135) and (1420,130) .. (C00117.-28);
\end{tikzpicture}
\end{document}
